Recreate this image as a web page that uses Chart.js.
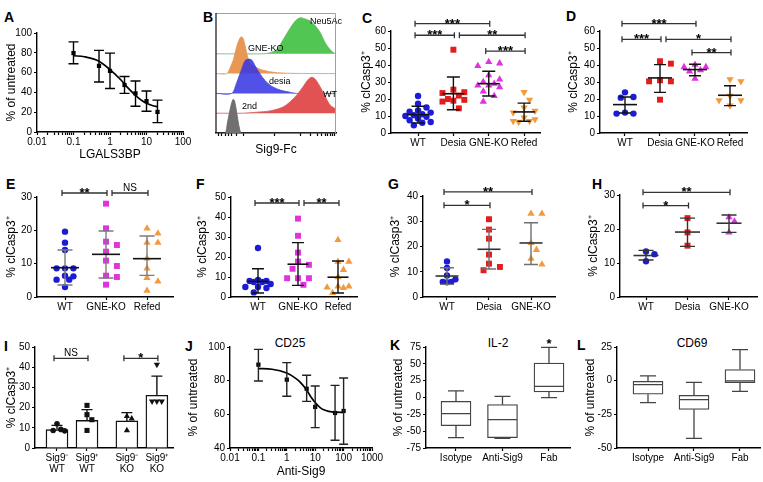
<!DOCTYPE html>
<html><head><meta charset="utf-8"><title>Figure</title>
<script src="https://cdn.jsdelivr.net/npm/chart.js@4.4.1/dist/chart.umd.min.js"></script>
<style>
html,body{margin:0;padding:0;background:#fff}
body{width:763px;height:482px;position:relative;overflow:hidden;font-family:"Liberation Sans",Arial,Helvetica,sans-serif;color:#000}
canvas{position:absolute}
.t{position:absolute;white-space:nowrap;line-height:14px}
.pl{font-weight:bold;font-size:14px}
.bl{font-size:9px;line-height:10px}
.ti{font-size:12px;text-align:center;width:60px}
</style></head><body>
<div class="t pl" style="left:4px;top:10px">A</div>
<div class="t pl" style="left:203px;top:10px">B</div>
<div class="t pl" style="left:362px;top:11px">C</div>
<div class="t pl" style="left:566px;top:9px">D</div>
<div class="t pl" style="left:6px;top:177px">E</div>
<div class="t pl" style="left:196px;top:177px">F</div>
<div class="t pl" style="left:388px;top:177px">G</div>
<div class="t pl" style="left:592px;top:177px">H</div>
<div class="t pl" style="left:4px;top:339px">I</div>
<div class="t pl" style="left:185px;top:339px">J</div>
<div class="t pl" style="left:390px;top:338px">K</div>
<div class="t pl" style="left:577px;top:338px">L</div>
<div class="t ti" style="left:260px;top:336px">CD25</div>
<div class="t ti" style="left:468px;top:336px">IL-2</div>
<div class="t ti" style="left:662px;top:336px">CD69</div>
<script>
// ===================== DATA =====================
// A: LGALS3BP dose response
const doseA = [0.1, 0.5, 1, 2.5, 5, 10, 20];
const meanA = [79.7, 66.8, 61.7, 47.5, 39, 31.2, 20.3];
const loA   = [69, 50.5, 44, 39, 26, 21, 9.5];
const hiA   = [91, 82.4, 79.7, 56, 51.5, 41.4, 32.2];
const fitDoseA = [0.1, 0.2, 0.5, 1, 2, 3, 5, 7, 10, 15, 20];
const fitA     = [77, 76, 71.5, 63, 52.5, 45, 37, 32.5, 29, 26.5, 25.5];
const decadesA = [0.01, 0.1, 1, 10, 100];

// B: Sig9-Fc histograms (bottom to top)
const histNames = ['2nd', 'WT', 'desia', 'GNE-KO', 'Neu5Ac'];
const histX_2nd = [0, 7.5, 9.5, 11.7, 14, 15.3, 17.3, 19.5, 21.4, 100];
const histH_2nd = [0, 0, 10, 23.3, 33.3, 32.7, 20, 5, 0, 0];
const histX_WT  = [0, 22.8, 34, 45, 56, 62, 67.4, 73, 77, 80, 82.7, 87, 91, 95, 100];
const histH_WT  = [0, 0, 1, 2.3, 6.3, 11.7, 18.3, 27.3, 34, 36, 34, 26, 16.7, 8.3, 4];
const histX_desia = [0, 13, 17.3, 21.4, 24.2, 27, 29.8, 32.6, 36.8, 41, 46.5, 53.5, 62, 67, 100];
const histH_desia = [0, 0, 11, 24.3, 32.7, 34.3, 33.3, 27.7, 19.3, 12.7, 7, 3.3, 1, 0, 0];
const histX_GNE = [0, 9, 11.7, 14.5, 17.3, 20, 21.4, 22.8, 25, 27, 29.8, 34, 39.5, 48, 62, 100];
const histH_GNE = [0, 0, 5.7, 14, 27.3, 35.7, 36.7, 34.7, 24, 14, 9, 5.7, 3.3, 1.3, 0.3, 0];
const histX_Neu = [0, 39.5, 45, 50.7, 56, 62, 66, 70, 74, 78.5, 83, 87, 91, 95, 98, 100];
const histH_Neu = [0, 0, 1, 4.3, 14.3, 26, 32.7, 36, 35, 32.7, 27.7, 21, 11, 4.3, 1, 0];

// C
const groupsC = ['WT', 'Desia', 'GNE-KO', 'Refed'];
const wtC    = [21.8, 17.3, 15, 13.3, 12.5, 12, 11, 10.5, 10, 9.5, 8.5, 7.5, 6.5, 6, 4.5];
const desiaC = [49, 25.5, 24, 23.5, 22, 20, 19.5, 19, 18.5, 14.5];
const gneC   = [41.8, 41, 39.5, 34, 31.5, 30, 29, 28, 28, 27, 24.5, 21.8, 18.5];
const refedC = [24, 19.5, 15, 13, 12, 9, 8, 7, 7, 6.5];
const meanC = [10.8, 23.1, 29, 12.4];
const loC   = [5.9, 13.7, 21.8, 6.9];
const hiC   = [15.7, 32.9, 36.3, 17.6];
const sigC  = [[0, 2, 64.3, '***'], [0, 1, 57.5, '***'], [1, 3, 57.5, '**'], [2, 3, 48.2, '***']];

// D
const groupsD = ['WT', 'Desia', 'GNE-KO', 'Refed'];
const wtD    = [23.9, 21.2, 20.8, 12, 11.4, 11.4];
const desiaD = [42.2, 40.8, 31, 30.4, 30.4, 19.6];
const gneD   = [40.2, 38.8, 38.8, 36.9, 36.3, 32];
const refedD = [31.6, 30.4, 21.8, 19.2, 19.2, 16.1];
const meanD = [16.7, 32.4, 37.3, 22.2];
const loD   = [11.8, 23.9, 33.7, 16.1];
const hiD   = [21.2, 40.2, 40.4, 27.8];
const sigD  = [[0, 2, 64.3, '***'], [0, 1, 55.1, '***'], [1, 3, 55.1, '*'], [2, 3, 47.3, '**']];

// E
const groupsE = ['WT', 'GNE-KO', 'Refed'];
const wtE    = [19.6, 16.3, 14.1, 8.6, 8.6, 8.6, 6.4, 6.2, 5.2, 5.2, 3];
const gneE   = [28, 20.6, 16.6, 15.6, 13.6, 10.9, 9.3, 6.4, 6, 3.7];
const refedE = [20.6, 19.1, 16.3, 16.3, 11.6, 8.6, 5.7, 4.7, 1.9];
const meanE = [8.8, 12.8, 11.5];
const loE   = [3.6, 5.7, 6.5];
const hiE   = [14.1, 19.8, 18.3];
const sigE  = [[0, 1, 31.2, '**'], [1, 2, 31.2, 'NS']];

// F
const groupsF = ['WT', 'GNE-KO', 'Refed'];
const wtF    = [24.5, 8.5, 8, 8, 7.5, 7.5, 6.5, 5, 5, 4.5, 2.3];
const gneF   = [39.2, 30.6, 22.2, 17.7, 16.1, 14.1, 9.4, 9.4, 9.4, 6.1];
const refedF = [28.5, 17.7, 17.7, 13.6, 9.9, 5.3, 5.3, 4.8, 4.5, 2];
const meanF = [7.8, 16.4, 9.9];
const loF   = [2, 5.8, 2];
const hiF   = [14.1, 27.2, 18];
const sigF  = [[0, 1, 47, '***'], [1, 2, 47, '**']];

// G
const groupsG = ['WT', 'Desia', 'GNE-KO'];
const wtG    = [14.1, 11.5, 8.5, 7, 6, 6, 5.8];
const desiaG = [30.8, 26.7, 23.1, 16.8, 13.2, 11.9, 10.6];
const gneG   = [33, 33, 21.4, 18.7, 15.2, 12.9];
const meanG = [8.3, 18.9, 21.4];
const loG   = [5.0, 11.1, 12.9];
const hiG   = [11.6, 26.8, 29.4];
const sigG  = [[0, 2, 41.6, '**'], [0, 1, 36.3, '*']];

// H
const groupsH = ['WT', 'Desia', 'GNE-KO'];
const wtH    = [13.4, 12.6, 10.5];
const desiaH = [23.2, 19, 15.1];
const gneH   = [23.5, 22.2, 19];
const meanH = [12.2, 19.1, 21.7];
const loH   = [10.9, 14.9, 19];
const hiH   = [13.7, 23.2, 24.1];
const sigH  = [[0, 2, 30.8, '**'], [0, 1, 26.9, '*']];

// I
const groupsI = [['Sig9\u207B', 'WT'], ['Sig9\u207A', 'WT'], ['Sig9\u207B', 'KO'], ['Sig9\u207A', 'KO']];
const barI = [9.1, 13.7, 13.4, 26.1];
const hiI  = [11.2, 19, 17.5, 35.6];
const ptsI = [[12, 9.2, 8.7, 8.5], [21.1, 16.5, 14, 8.7], [15.7, 14.5, 8.7], [41.3, 23.1, 23.1, 23.1]];
const sigI = [[0, 1, 44.4, 'NS'], [2, 3, 44.4, '*']];

// J
const doseJ = [0.1, 1, 5, 10, 50, 100];
const meanJ = [89.5, 80.6, 75.2, 64.4, 60.8, 62];
const loJ   = [79.8, 70.7, 67.7, 52.1, 44.6, 42.2];
const hiJ   = [98.6, 90.7, 83.2, 76.8, 77.2, 81.6];
const fitDoseJ = [0.1, 0.3, 1, 2, 3, 5, 7, 10, 15, 20, 30, 50, 100];
const fitJ     = [87.2, 86.8, 84.5, 81.5, 79, 74.5, 70.5, 67, 64, 62.7, 61.8, 61.3, 61.2];
const decadesJ = [0.01, 0.1, 1, 10, 100, 1000];

// K (IL-2) box plots
const groupsK = ['Isotype', 'Anti-Sig9', 'Fab'];
const minK = [-59.6, -60.5, -0.2];
const q1K  = [-41.8, -59.6, 8.2];
const medK = [-24, -33, 16.6];
const q3K  = [-5.7, -10.6, 51.2];
const maxK = [9.7, 1.7, 74.5];
const starK = ['', '', '*'];

// L (CD69) box plots
const groupsL = ['Isotype', 'Anti-Sig9', 'Fab'];
const minL = [-16.3, -42.8, -7.9];
const q1L  = [-10.1, -21.3, -1.5];
const medL = [-3, -14.1, -0.2];
const q3L  = [-0.5, -10.9, 8.2];
const maxL = [3.5, -1.2, 23];

// ===================== STYLE / HELPERS =====================
const FONT = '"Liberation Sans", Arial, Helvetica, sans-serif';
Chart.defaults.font.family = FONT;
Chart.defaults.color = '#000';
const BLUE = '#1c1cd6', RED = '#e31c1c', MAG = '#e033e0', ORA = '#f29a3c';
const ST = {
  blueCircle: {shape: 'circle', r: 3.2, color: BLUE},
  redRect: {shape: 'rect', r: 4.2, color: RED},
  magRect: {shape: 'rect', r: 4.2, color: MAG},
  magTri: {shape: 'triangle', r: 4.2, color: MAG},
  oraTri: {shape: 'triangle', r: 4.2, color: ORA},
  oraTriDown: {shape: 'triangle', r: 4.2, rot: 180, color: ORA},
  kCircle: {shape: 'circle', r: 2.8, color: '#111'},
  kRect: {shape: 'rect', r: 3.6, color: '#111'},
  kTri: {shape: 'triangle', r: 3.6, color: '#111'},
  kTriDown: {shape: 'triangle', r: 3.6, rot: 180, color: '#111'}
};

const deco = {
  id: 'deco',
  afterDatasetsDraw(chart, args, o) {
    const ctx = chart.ctx, xs = chart.scales.x, ys = chart.scales.y;
    const X = v => xs.getPixelForValue(v), Y = v => ys.getPixelForValue(v);
    ctx.save();
    ctx.lineCap = 'butt';
    (o.err || []).forEach(e => {
      const px = X(e.x);
      ctx.strokeStyle = e.color; ctx.lineWidth = e.lw || 1.4;
      ctx.beginPath();
      ctx.moveTo(px, Y(e.lo)); ctx.lineTo(px, Y(e.hi));
      ctx.moveTo(px - e.cap, Y(e.hi)); ctx.lineTo(px + e.cap, Y(e.hi));
      if (!e.upOnly) { ctx.moveTo(px - e.cap, Y(e.lo)); ctx.lineTo(px + e.cap, Y(e.lo)); }
      ctx.stroke();
      if (e.mw) {
        ctx.strokeStyle = e.mcolor || e.color; ctx.lineWidth = 1.6;
        ctx.beginPath(); ctx.moveTo(px - e.mw, Y(e.mean)); ctx.lineTo(px + e.mw, Y(e.mean)); ctx.stroke();
      }
    });
    (o.box || []).forEach(b => {
      const px = X(b.x);
      ctx.strokeStyle = b.color; ctx.lineWidth = 1.3;
      ctx.beginPath();
      ctx.moveTo(px, Y(b.q3)); ctx.lineTo(px, Y(b.max));
      ctx.moveTo(px - b.cap, Y(b.max)); ctx.lineTo(px + b.cap, Y(b.max));
      ctx.moveTo(px, Y(b.q1)); ctx.lineTo(px, Y(b.min));
      ctx.moveTo(px - b.cap, Y(b.min)); ctx.lineTo(px + b.cap, Y(b.min));
      ctx.moveTo(px - b.hw, Y(b.med)); ctx.lineTo(px + b.hw, Y(b.med));
      ctx.stroke();
      if (b.star) {
        ctx.fillStyle = '#000'; ctx.textAlign = 'center'; ctx.textBaseline = 'alphabetic';
        ctx.font = 'bold 13px ' + FONT;
        ctx.fillText(b.star, px, Y(b.max) + 1);
      }
    });
    const sig = o.brackets || [];
    sig.forEach(([a, b, lv, t]) => {
      const shared = sig.some(s => s[1] === a && s[2] === lv);
      const xa = X(a) + (shared ? 6 : -3), xb = X(b) + 1, ya = Y(lv);
      ctx.strokeStyle = '#333'; ctx.lineWidth = 1.3;
      ctx.beginPath();
      ctx.moveTo(xa, ya); ctx.lineTo(xb, ya);
      ctx.moveTo(xa, ya - 3); ctx.lineTo(xa, ya + 3);
      ctx.moveTo(xb, ya - 3); ctx.lineTo(xb, ya + 3);
      ctx.stroke();
      const star = t.indexOf('*') >= 0;
      ctx.fillStyle = '#000'; ctx.textAlign = 'center'; ctx.textBaseline = 'alphabetic';
      ctx.font = star ? 'bold 13px ' + FONT : '10px ' + FONT;
      ctx.fillText(t, (xa + xb) / 2, star ? ya + 4 : ya - 2);
    });
    ctx.restore();
  }
};
Chart.register(deco);

const frame = {
  id: 'frame',
  afterDraw(chart) {
    const {ctx, chartArea: a} = chart;
    ctx.save();
    ctx.strokeStyle = '#a0a0a0'; ctx.lineWidth = 1;
    ctx.beginPath();
    ctx.moveTo(a.left, a.top + 0.5); ctx.lineTo(a.right - 0.5, a.top + 0.5); ctx.lineTo(a.right - 0.5, a.bottom);
    ctx.stroke();
    ctx.strokeStyle = '#222'; ctx.lineWidth = 1.3;
    ctx.beginPath(); ctx.moveTo(a.left, a.top); ctx.lineTo(a.left, a.bottom); ctx.stroke();
    ctx.restore();
  }
};

// compact beeswarm: horizontal offsets limited to +-maxOff pixels, overlap allowed when full
function swarm(vals, cx, pxX, pxY, d, maxOff) {
  const placed = [];
  const lim = maxOff || 12;
  const stepPx = d * 0.62;
  const cands = [0];
  for (let k = 1; k * stepPx <= lim; k++) { cands.push(k * stepPx); cands.push(-k * stepPx); }
  return vals.map(v => {
    const py = v * pxY;
    let best = 0, bestD = -1;
    for (const o of cands) {
      const md = placed.length ? Math.min(...placed.map(p => Math.hypot(p[0] - o, p[1] - py))) : 1e9;
      if (md >= d * 0.95) { best = o; bestD = 1e9; break; }
      if (md > bestD) { bestD = md; best = o; }
    }
    placed.push([best, py]);
    return {x: cx + best / pxX, y: v};
  });
}
function logTicks(e0, e1) {
  const t = [];
  for (let e = e0; e < e1; e++) for (let k = 1; k <= 9; k++) t.push(k * Math.pow(10, e));
  t.push(Math.pow(10, e1));
  return t;
}
function decadeLabel(v, list) {
  const d = list.find(x => Math.abs(x - v) / x < 1e-9);
  return d === undefined ? '' : String(d);
}
function yScale(o) {
  return {
    type: o.type || 'linear', min: o.min, max: o.max,
    border: {display: !o.hide, color: '#000', width: 1.4},
    grid: {display: !o.hide, drawOnChartArea: false, drawTicks: true, tickLength: 3, color: '#000', tickColor: '#000', tickWidth: 1.2},
    ticks: {display: !o.hide, stepSize: o.step, font: {size: 10}, color: '#000', padding: 2, autoSkip: false},
    title: {display: !!o.title, text: o.title || '', font: {size: 12}, color: '#000'}
  };
}
function xScale(o) {
  const s = {
    type: o.type || 'linear', min: o.min, max: o.max, offset: false,
    border: {display: true, color: '#000', width: 1.4},
    grid: {display: true, offset: false, drawOnChartArea: false, drawTicks: true, tickLength: 3, color: '#000', tickColor: '#000', tickWidth: 1.2},
    ticks: {font: {size: 10, lineHeight: 1.1}, color: '#000', padding: 2, autoSkip: false, maxRotation: 0, minRotation: 0, callback: o.cb},
    title: {display: !!o.title, text: o.title || '', font: {size: 12}, color: '#000'}
  };
  if (o.ticks) s.afterBuildTicks = sc => { sc.ticks = o.ticks.map(v => ({value: v})); };
  return s;
}
function makePanel(b, type, datasets, xs, ys, decoOpts, plugins) {
  const LH = 12 * 1.2;
  const yw = b.ytc != null ? Math.round(b.x0 - b.ytc + LH / 2 + 1) : b.yw;
  const L = b.x0 - yw;
  const xh = b.xtc != null ? Math.round(b.xtc - b.y1 + LH / 2 + 1) : b.xh;
  const pt = b.pt, pr = b.pr;
  const T = b.y0 - pt;
  const W = b.x1 + pr - L, H = b.y1 + xh - T;
  if (b.ytc != null) ys.title.padding = {top: b.ytc - L - LH / 2, bottom: 0};
  if (b.xtc != null) xs.title.padding = {top: 0, bottom: (b.y1 + xh) - b.xtc - LH / 2};
  xs.afterFit = s => { s.height = xh; };
  ys.afterFit = s => { s.width = yw; };
  const c = document.createElement('canvas');
  c.width = W; c.height = H;
  c.style.left = L + 'px'; c.style.top = T + 'px';
  c.style.width = W + 'px'; c.style.height = H + 'px';
  document.body.appendChild(c);
  return new Chart(c, {
    type, data: {datasets}, plugins: plugins || [],
    options: {
      responsive: false, animation: false, devicePixelRatio: 1, events: [],
      layout: {padding: {left: 0, top: pt, right: pr, bottom: 0}},
      plugins: {legend: {display: false}, tooltip: {enabled: false}, title: {display: false}, deco: decoOpts || {}},
      scales: {x: xs, y: ys}
    }
  });
}
function dotPanel(b, s) {
  const pxX = (b.x1 - b.x0) / (s.xmax - s.xmin), pxY = (b.y1 - b.y0) / (s.ymax - s.ymin);
  const ds = s.sets.map((vals, i) => {
    const st = s.styles[i];
    return {type: 'scatter', data: swarm(vals, i, pxX, pxY, st.r * 2 + 0.4, s.spread),
      pointStyle: st.shape, rotation: st.rot || 0, pointRadius: st.r,
      backgroundColor: st.color, borderColor: st.color, borderWidth: 0};
  });
  const err = s.mean.map((m, i) => ({x: i, mean: m, lo: s.lo[i], hi: s.hi[i], cap: s.cap, mw: s.mw, color: s.ecol, mcolor: s.mcol}));
  return makePanel(b, 'scatter', ds,
    xScale({min: s.xmin, max: s.xmax, ticks: s.groups.map((g, i) => i), cb: (v, i) => s.groups[i]}),
    yScale({min: s.ymin, max: s.ymax, step: s.step, title: '% clCasp3\u207A'}),
    {err, brackets: s.sig});
}
function boxPanel(b, s) {
  const ds = [{type: 'bar', data: s.q1.map((q, i) => ({x: i, y: [q, s.q3[i]]})),
    backgroundColor: '#fff', borderColor: '#444', borderWidth: 1.3, borderSkipped: false, barThickness: 30}];
  const box = s.q1.map((q, i) => ({x: i, min: s.min[i], q1: q, med: s.med[i], q3: s.q3[i], max: s.max[i], cap: 8, hw: 14.5, color: '#444', star: s.star ? s.star[i] : ''}));
  return makePanel(b, 'bar', ds,
    xScale({min: s.xmin, max: s.xmax, ticks: s.groups.map((g, i) => i), cb: (v, i) => s.groups[i]}),
    yScale({min: s.ymin, max: s.ymax, step: s.step, title: '% of untreated'}),
    {box});
}

// ===================== PANELS =====================
// A
makePanel({x0: 37, y0: 33, x1: 183, y1: 132, ytc: 12, xtc: 155, pt: 16, pr: 14}, 'scatter', [
  {type: 'line', data: fitDoseA.map((x, i) => ({x, y: fitA[i]})), borderColor: '#000', borderWidth: 1.7, pointRadius: 0, cubicInterpolationMode: 'monotone', fill: false},
  {type: 'scatter', data: doseA.map((x, i) => ({x, y: meanA[i]})), pointStyle: 'rect', pointRadius: 3, backgroundColor: '#000', borderWidth: 0}
], xScale({type: 'logarithmic', min: 0.01, max: 100, ticks: logTicks(-2, 2), cb: v => decadeLabel(v, decadesA), title: 'LGALS3BP'}),
   yScale({min: 0, max: 100, step: 20, title: '% of untreated'}),
   {err: doseA.map((x, i) => ({x, lo: loA[i], hi: hiA[i], cap: 5, color: '#000'}))});

// B
(function () {
  const xsB = [histX_2nd, histX_WT, histX_desia, histX_GNE, histX_Neu];
  const hsB = [histH_2nd, histH_WT, histH_desia, histH_GNE, histH_Neu];
  const fills = ['rgb(112,112,112)', 'rgb(226,82,82)', 'rgba(52,52,228,0.86)', 'rgb(232,152,82)', 'rgb(82,198,82)'];
  const lines = ['rgb(100,100,100)', 'rgb(210,90,90)', 'rgb(70,70,200)', 'rgb(220,150,100)', 'rgb(110,180,110)'];
  const step = 19.8;
  const ds = histNames.map((n, i) => ({
    type: 'line', label: n,
    data: xsB[i].map((x, j) => ({x, y: i * step + hsB[i][j]})),
    fill: {value: i * step}, backgroundColor: fills[i], borderColor: lines[i], borderWidth: 0.8,
    pointRadius: 0, tension: 0.3
  }));
  const bTicks = [2, 4.7, 7.5, 10.3, 13, 17, 23, 49, 70, 79, 84.3, 88, 91, 93.3, 95.3, 97, 98.6];
  makePanel({x0: 216, y0: 13, x1: 336, y1: 133, yw: 10, xtc: 150, pt: 4, pr: 6}, 'line', ds,
    xScale({min: 0, max: 100, ticks: bTicks, cb: () => '', title: 'Sig9-Fc'}),
    yScale({min: 0, max: 120, hide: true}), {}, [frame]);
})();

// C
dotPanel({x0: 391, y0: 31, x1: 540, y1: 133, ytc: 367, xh: 28, pt: 22, pr: 14}, {
  groups: groupsC, sets: [wtC, desiaC, gneC, refedC], styles: [ST.blueCircle, ST.redRect, ST.magTri, ST.oraTriDown],
  mean: meanC, lo: loC, hi: hiC, xmin: -0.765, xmax: 3.45, ymin: 0, ymax: 60, step: 10, sig: sigC,
  ecol: '#111', mcol: '#111', mw: 11, cap: 6.5, spread: 13});
// D
dotPanel({x0: 600, y0: 31, x1: 747, y1: 133, ytc: 574, xh: 28, pt: 22, pr: 12}, {
  groups: groupsD, sets: [wtD, desiaD, gneD, refedD], styles: [ST.blueCircle, ST.redRect, ST.magTri, ST.oraTriDown],
  mean: meanD, lo: loD, hi: hiD, xmin: -0.714, xmax: 3.486, ymin: 0, ymax: 60, step: 10, sig: sigD,
  ecol: '#111', mcol: '#111', mw: 12, cap: 6, spread: 11});
// E
dotPanel({x0: 37, y0: 197, x1: 173, y1: 297, ytc: 12, xh: 28, pt: 22, pr: 14}, {
  groups: groupsE, sets: [wtE, gneE, refedE], styles: [ST.blueCircle, ST.magRect, ST.oraTri],
  mean: meanE, lo: loE, hi: hiE, xmin: -0.683, xmax: 2.634, ymin: 0, ymax: 30, step: 10, sig: sigE,
  ecol: '#7c7c7c', mcol: '#111', mw: 14, cap: 7.5, spread: 13});
// F
dotPanel({x0: 231, y0: 197, x1: 357, y1: 297, ytc: 203, xh: 28, pt: 22, pr: 14}, {
  groups: groupsF, sets: [wtF, gneF, refedF], styles: [ST.blueCircle, ST.magRect, ST.oraTri],
  mean: meanF, lo: loF, hi: hiF, xmin: -0.675, xmax: 2.475, ymin: 0, ymax: 50, step: 10, sig: sigF,
  ecol: '#111', mcol: '#111', mw: 10.5, cap: 6, spread: 13});
// G
dotPanel({x0: 423, y0: 196, x1: 555, y1: 297, ytc: 396, xh: 28, pt: 22, pr: 14}, {
  groups: groupsG, sets: [wtG, desiaG, gneG], styles: [ST.blueCircle, ST.redRect, ST.oraTri],
  mean: meanG, lo: loG, hi: hiG, xmin: -0.571, xmax: 2.571, ymin: 0, ymax: 40, step: 10, sig: sigG,
  ecol: '#707070', mcol: '#333', mw: 11.5, cap: 7, spread: 12});
// H
dotPanel({x0: 620, y0: 195, x1: 757, y1: 297, ytc: 594, xh: 28, pt: 22, pr: 5}, {
  groups: groupsH, sets: [wtH, desiaH, gneH], styles: [ST.blueCircle, ST.redRect, ST.magTri],
  mean: meanH, lo: loH, hi: hiH, xmin: -0.627, xmax: 2.675, ymin: 0, ymax: 30, step: 10, sig: sigH,
  ecol: '#333', mcol: '#333', mw: 12.5, cap: 7.5, spread: 9});

// I
(function () {
  const b = {x0: 35, y0: 347, x1: 173, y1: 448, ytc: 12, xh: 30, pt: 22, pr: 14};
  const xmin = -0.733, xmax = 3.867, ymin = 0, ymax = 50;
  const posI = groupsI.map((g, i) => i + (i > 1 ? 0.33 : 0));
  const pxX = (b.x1 - b.x0) / (xmax - xmin), pxY = (b.y1 - b.y0) / (ymax - ymin);
  const styles = [ST.kCircle, ST.kRect, ST.kTri, ST.kTriDown];
  const ds = [{type: 'bar', data: barI.map((v, i) => ({x: posI[i], y: v})), backgroundColor: '#fff', borderColor: '#111', borderWidth: 1.4, barThickness: 22, order: 1}]
    .concat(ptsI.map((vals, i) => ({type: 'scatter', data: swarm(vals, posI[i], pxX, pxY, styles[i].r * 2 + 0.6, 8),
      pointStyle: styles[i].shape, rotation: styles[i].rot || 0, pointRadius: styles[i].r,
      backgroundColor: styles[i].color, borderWidth: 0, order: 0})));
  makePanel(b, 'bar', ds,
    xScale({min: xmin, max: xmax, ticks: posI, cb: (v, i) => groupsI[i]}),
    yScale({min: ymin, max: ymax, step: 10, title: '% clCasp3\u207A'}),
    {err: barI.map((m, i) => ({x: posI[i], mean: m, lo: m, hi: hiI[i], cap: 5.5, upOnly: true, color: '#111'})),
     brackets: sigI.map(([a, c, l, t]) => [posI[a], posI[c], l, t])});
})();

// J
makePanel({x0: 230, y0: 347, x1: 372, y1: 448, ytc: 194, xtc: 472, pt: 22, pr: 14}, 'scatter', [
  {type: 'line', data: fitDoseJ.map((x, i) => ({x, y: fitJ[i]})), borderColor: '#000', borderWidth: 1.7, pointRadius: 0, cubicInterpolationMode: 'monotone', fill: false},
  {type: 'scatter', data: doseJ.map((x, i) => ({x, y: meanJ[i]})), pointStyle: 'rect', pointRadius: 3, backgroundColor: '#000', borderWidth: 0}
], xScale({type: 'logarithmic', min: 0.01, max: 1000, ticks: logTicks(-2, 3), cb: v => decadeLabel(v, decadesJ), title: 'Anti-Sig9'}),
   yScale({min: 40, max: 100, step: 20, title: '% of untreated'}),
   {err: doseJ.map((x, i) => ({x, lo: loJ[i], hi: hiJ[i], cap: 4.5, color: '#222'}))});

// K
boxPanel({x0: 426, y0: 347, x1: 570, y1: 448, ytc: 399, xh: 28, pt: 22, pr: 12}, {
  groups: groupsK, min: minK, q1: q1K, med: medK, q3: q3K, max: maxK, star: starK,
  xmin: -0.645, xmax: 2.452, ymin: -75, ymax: 75, step: 25});
// L
boxPanel({x0: 617, y0: 347, x1: 760, y1: 448, ytc: 591, xh: 28, pt: 22, pr: 3}, {
  groups: groupsL, min: minL, q1: q1L, med: medL, q3: q3L, max: maxL,
  xmin: -0.674, xmax: 2.435, ymin: -50, ymax: 25, step: 25});
</script>
<div class="t bl" style="left:310px;top:16px">Neu5Ac</div>
<div class="t bl" style="left:248px;top:43px">GNE-KO</div>
<div class="t bl" style="left:269px;top:76px">desia</div>
<div class="t bl" style="left:323px;top:89px">WT</div>
<div class="t bl" style="left:242px;top:101px">2nd</div>
</body></html>
